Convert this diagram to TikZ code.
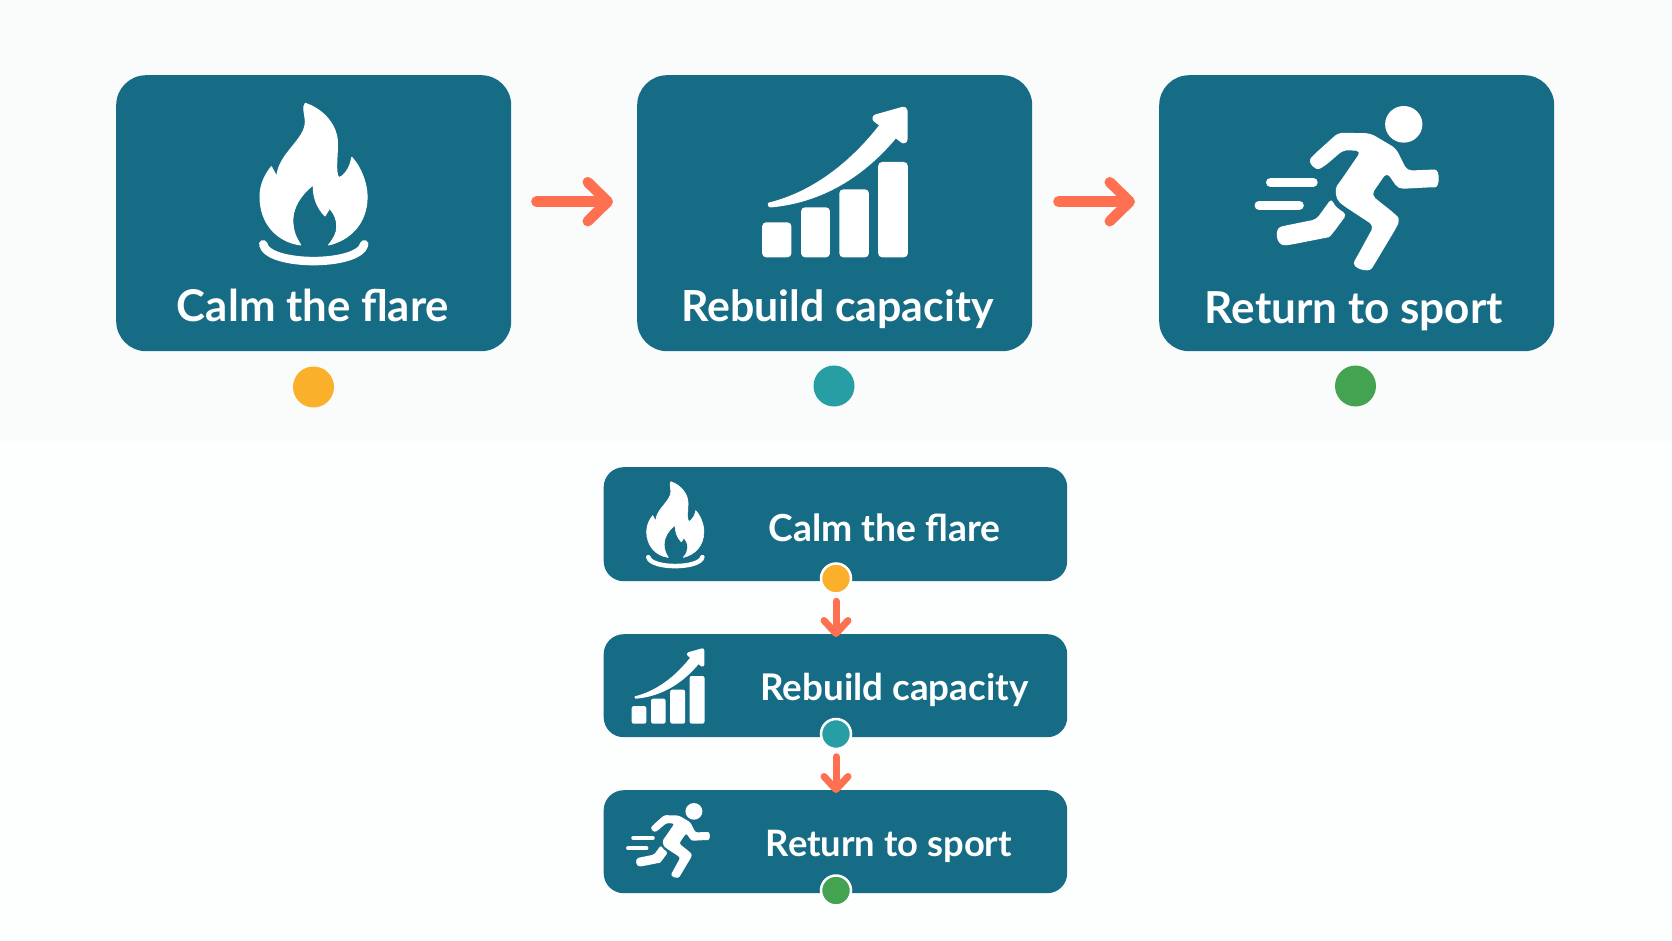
\documentclass[tikz,border=0pt]{standalone}
\usepackage{fontspec}
\usepackage{graphicx}
\setmainfont{Lato}
\usetikzlibrary{arrows.meta}
\definecolor{boxteal}{HTML}{176C85}
\definecolor{arrowred}{HTML}{FF7050}
\definecolor{dotorange}{HTML}{FBB02B}
\definecolor{dotteal}{HTML}{279EA3}
\definecolor{dotgreen}{HTML}{43A351}
\definecolor{bandtop}{HTML}{FAFBFB}
\definecolor{bandlow}{HTML}{FDFEFE}
\tikzset{
  bigbox/.style={fill=boxteal,rounded corners=30pt,minimum width=395pt,minimum height=276pt,inner sep=0pt,anchor=north west},
  smallbox/.style={fill=boxteal,rounded corners=20pt,minimum width=463.5pt,inner sep=0pt,anchor=north west},
  bigdot/.style={circle,minimum size=41pt,inner sep=0pt},
  smalldot/.style={circle,draw=white,line width=2.5pt,minimum size=30pt,inner sep=0pt},
  label/.style={text=white,anchor=base,inner sep=0pt,font=\bfseries},
  hflow/.style={draw=arrowred,line width=10.5pt,line cap=round,-{Straight Barb[length=20pt,width=39pt,round]}},
  vflow/.style={draw=arrowred,line width=7pt,line cap=round,-{Straight Barb[length=13pt,width=24pt,round]}},
  iconfill/.style={fill=white,draw=white,line join=round}
}
% icons: local coordinates; #1 #2 = position of the local origin, #3 = size factor
\newcommand\flameicon[3]{\begin{scope}[shift={(#1,#2)},xscale=#3/2.8,yscale=#3/3]
  \path[iconfill,line width=#3*1pt]
    (575,130) .. controls (630,150) and (665,200) .. (665,250)
    .. controls (665,290) and (660,320) .. (665,345)
    .. controls (668,355) and (672,353) .. (678,348)
    .. controls (692,335) and (700,320) .. (705,292)
    .. controls (730,320) and (748,370) .. (748,410)
    .. controls (748,490) and (700,540) .. (640,555)
    .. controls (655,535) and (663,520) .. (663,500)
    .. controls (663,475) and (655,460) .. (643,445)
    -- (630,468)
    .. controls (605,440) and (597,410) .. (597,375)
    .. controls (560,405) and (540,445) .. (540,480)
    .. controls (540,515) and (550,535) .. (562,555)
    .. controls (495,545) and (448,490) .. (448,410)
    .. controls (448,370) and (465,340) .. (480,320)
    -- (495,350)
    .. controls (500,280) and (575,240) .. (575,185)
    .. controls (575,165) and (565,140) .. (575,130) -- cycle;
  \draw[white,line width=#3*8.5pt,line cap=round] (457,553) .. controls (470,620) and (725,620) .. (740,553);
\end{scope}}
\newcommand\charticon[3]{\begin{scope}[shift={(#1,#2)},xscale=#3/2.8,yscale=#3/3]
  \foreach \xa/\ya/\xb in {398/487/480,507/442/588,614/388/697,723/306/806}
    \fill[white,rounded corners=#3*4pt] (\xa,\ya) rectangle (\xb,592);
  \path[iconfill,line width=#3*3pt]
    (418,432) .. controls (540,400) and (650,310) .. (735,190)
    -- (775,225)
    .. controls (680,350) and (560,425) .. (420,438) -- cycle;
  \path[iconfill,line width=#3*8pt]
    (718,175) -- (794,152) -- (794,238) -- cycle;
\end{scope}}
\newcommand\runnericon[3]{\begin{scope}[shift={(#1,#2)},xscale=#3/2.95,yscale=#3/3]
  \fill[white] (778,193) circle[radius=55];
  \path[fill=white,rounded corners=#3*5pt]
    (550,250) -- (585,218) -- (680,220) -- (755,265) -- (788,332) -- (855,329)
    .. controls (885,329) and (885,382) .. (855,382)
    -- (762,387) -- (728,337) -- (682,405) -- (750,460)
    .. controls (765,475) and (762,490) .. (755,505)
    -- (692,612) .. controls (675,640) and (620,625) .. (640,590)
    -- (690,497) -- (600,437) .. controls (575,415) and (575,385) .. (590,365)
    -- (652,273) -- (600,270) -- (545,318) .. controls (515,335) and (495,305) .. (512,285) -- cycle;
  \path[fill=white,rounded corners=#3*4pt]
    (565,415) .. controls (575,440) and (590,450) .. (610,463)
    -- (570,518) .. controls (560,530) and (555,532) .. (545,534)
    -- (440,555) .. controls (400,558) and (395,505) .. (428,497)
    -- (520,478) -- cycle;
  \draw[white,line width=#3*9pt,line cap=round] (385,367) -- (511,367);
  \draw[white,line width=#3*9pt,line cap=round] (351,436) -- (470,436);
\end{scope}}
\begin{document}
\begin{tikzpicture}[x=1pt,y=-1pt]
\useasboundingbox (0,0) rectangle (1672,941);
\fill[bandlow] (0,0) rectangle (1672,941);
\fill[bandtop] (0,0) rectangle (1672,441);
% top row
\node[bigbox] (a) at (116,75) {};
\node[bigbox] (b) at (637,75) {};
\node[bigbox] (c) at (1159,75) {};
\flameicon{100}{60}{1}
\charticon{620}{60}{1}
\runnericon{1140}{60}{1}
\node[label] (la) at (313,321) {\resizebox{272pt}{!}{Calm the flare}};
\node[label] (lb) at (837.5,321) {\resizebox{312pt}{!}{Rebuild capacity}};
\node[label] (lc) at (1354,323) {\resizebox{298pt}{!}{Return to sport}};
\node[bigdot,fill=dotorange] (da) at (313.5,387) {};
\node[bigdot,fill=dotteal] (db) at (834,386) {};
\node[bigdot,fill=dotgreen] (dc) at (1355.5,386) {};
\draw[hflow,shorten <=25pt,shorten >=24pt] ([yshift=11.5pt]a.east) -- ([yshift=11.5pt]b.west);
\draw[hflow,shorten <=26pt,shorten >=24pt] ([yshift=11.5pt]b.east) -- ([yshift=11.5pt]c.west);
% lower column
\node[smallbox,minimum height=114pt] (p) at (603.5,467) {};
\node[smallbox,minimum height=103pt] (q) at (603.5,634) {};
\node[smallbox,minimum height=103pt] (r) at (603.5,790) {};
\flameicon{561}{458.5}{.535}
\charticon{560.6}{625}{.5}
\runnericon{573.9}{782.1}{.455}
\node[label] (lp) at (884.5,541) {\resizebox{232pt}{!}{Calm the flare}};
\node[label] (lq) at (894.5,700) {\resizebox{268pt}{!}{Rebuild capacity}};
\node[label] (lr) at (889,856) {\resizebox{246pt}{!}{Return to sport}};
\node[smalldot,fill=dotorange] (dp) at (836,578.5) {};
\node[smalldot,fill=dotteal] (dq) at (836,734) {};
\node[smalldot,fill=dotgreen] (dr) at (836,890.5) {};
\draw[vflow,shorten <=6.5pt,shorten >=-3pt] (dp.south) -- (q.north -| dp.south);
\draw[vflow,shorten <=6.5pt,shorten >=-3pt] (dq.south) -- (r.north -| dq.south);
\end{tikzpicture}
\end{document}
